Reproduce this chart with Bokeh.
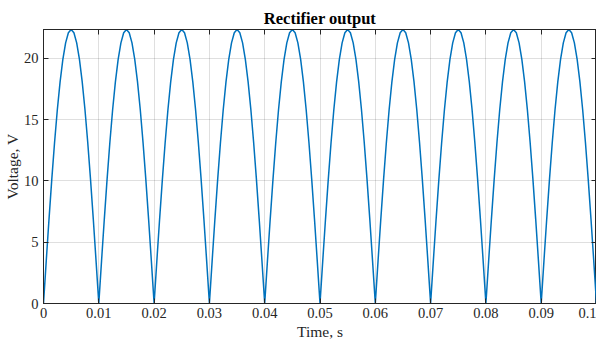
from bokeh.plotting import figure
from bokeh.models import Range1d, LinearAxis, FixedTicker, Title
from bokeh.embed import file_html
from bokeh.resources import INLINE

# sample times (s)
time_s = [
    0.0000, 0.0005, 0.0010, 0.0015, 0.0020, 0.0025, 0.0030, 0.0035, 0.0040, 0.0045,
    0.0050, 0.0055, 0.0060, 0.0065, 0.0070, 0.0075, 0.0080, 0.0085, 0.0090, 0.0095,
    0.0100, 0.0105, 0.0110, 0.0115, 0.0120, 0.0125, 0.0130, 0.0135, 0.0140, 0.0145,
    0.0150, 0.0155, 0.0160, 0.0165, 0.0170, 0.0175, 0.0180, 0.0185, 0.0190, 0.0195,
    0.0200, 0.0205, 0.0210, 0.0215, 0.0220, 0.0225, 0.0230, 0.0235, 0.0240, 0.0245,
    0.0250, 0.0255, 0.0260, 0.0265, 0.0270, 0.0275, 0.0280, 0.0285, 0.0290, 0.0295,
    0.0300, 0.0305, 0.0310, 0.0315, 0.0320, 0.0325, 0.0330, 0.0335, 0.0340, 0.0345,
    0.0350, 0.0355, 0.0360, 0.0365, 0.0370, 0.0375, 0.0380, 0.0385, 0.0390, 0.0395,
    0.0400, 0.0405, 0.0410, 0.0415, 0.0420, 0.0425, 0.0430, 0.0435, 0.0440, 0.0445,
    0.0450, 0.0455, 0.0460, 0.0465, 0.0470, 0.0475, 0.0480, 0.0485, 0.0490, 0.0495,
    0.0500, 0.0505, 0.0510, 0.0515, 0.0520, 0.0525, 0.0530, 0.0535, 0.0540, 0.0545,
    0.0550, 0.0555, 0.0560, 0.0565, 0.0570, 0.0575, 0.0580, 0.0585, 0.0590, 0.0595,
    0.0600, 0.0605, 0.0610, 0.0615, 0.0620, 0.0625, 0.0630, 0.0635, 0.0640, 0.0645,
    0.0650, 0.0655, 0.0660, 0.0665, 0.0670, 0.0675, 0.0680, 0.0685, 0.0690, 0.0695,
    0.0700, 0.0705, 0.0710, 0.0715, 0.0720, 0.0725, 0.0730, 0.0735, 0.0740, 0.0745,
    0.0750, 0.0755, 0.0760, 0.0765, 0.0770, 0.0775, 0.0780, 0.0785, 0.0790, 0.0795,
    0.0800, 0.0805, 0.0810, 0.0815, 0.0820, 0.0825, 0.0830, 0.0835, 0.0840, 0.0845,
    0.0850, 0.0855, 0.0860, 0.0865, 0.0870, 0.0875, 0.0880, 0.0885, 0.0890, 0.0895,
    0.0900, 0.0905, 0.0910, 0.0915, 0.0920, 0.0925, 0.0930, 0.0935, 0.0940, 0.0945,
    0.0950, 0.0955, 0.0960, 0.0965, 0.0970, 0.0975, 0.0980, 0.0985, 0.0990, 0.0995,
    0.1000,
]

# rectified voltage (V)
voltage_v = [
    0.00, 3.50, 6.91, 10.15, 13.14, 15.81, 18.09, 19.92, 21.27, 22.09,
    22.36, 22.09, 21.27, 19.92, 18.09, 15.81, 13.14, 10.15, 6.91, 3.50,
    0.00, 3.50, 6.91, 10.15, 13.14, 15.81, 18.09, 19.92, 21.27, 22.09,
    22.36, 22.09, 21.27, 19.92, 18.09, 15.81, 13.14, 10.15, 6.91, 3.50,
    0.00, 3.50, 6.91, 10.15, 13.14, 15.81, 18.09, 19.92, 21.27, 22.09,
    22.36, 22.09, 21.27, 19.92, 18.09, 15.81, 13.14, 10.15, 6.91, 3.50,
    0.00, 3.50, 6.91, 10.15, 13.14, 15.81, 18.09, 19.92, 21.27, 22.09,
    22.36, 22.09, 21.27, 19.92, 18.09, 15.81, 13.14, 10.15, 6.91, 3.50,
    0.00, 3.50, 6.91, 10.15, 13.14, 15.81, 18.09, 19.92, 21.27, 22.09,
    22.36, 22.09, 21.27, 19.92, 18.09, 15.81, 13.14, 10.15, 6.91, 3.50,
    0.00, 3.50, 6.91, 10.15, 13.14, 15.81, 18.09, 19.92, 21.27, 22.09,
    22.36, 22.09, 21.27, 19.92, 18.09, 15.81, 13.14, 10.15, 6.91, 3.50,
    0.00, 3.50, 6.91, 10.15, 13.14, 15.81, 18.09, 19.92, 21.27, 22.09,
    22.36, 22.09, 21.27, 19.92, 18.09, 15.81, 13.14, 10.15, 6.91, 3.50,
    0.00, 3.50, 6.91, 10.15, 13.14, 15.81, 18.09, 19.92, 21.27, 22.09,
    22.36, 22.09, 21.27, 19.92, 18.09, 15.81, 13.14, 10.15, 6.91, 3.50,
    0.00, 3.50, 6.91, 10.15, 13.14, 15.81, 18.09, 19.92, 21.27, 22.09,
    22.36, 22.09, 21.27, 19.92, 18.09, 15.81, 13.14, 10.15, 6.91, 3.50,
    0.00, 3.50, 6.91, 10.15, 13.14, 15.81, 18.09, 19.92, 21.27, 22.09,
    22.36, 22.09, 21.27, 19.92, 18.09, 15.81, 13.14, 10.15, 6.91, 3.50,
    0.00,
]

x_ticks = [0, 0.01, 0.02, 0.03, 0.04, 0.05, 0.06, 0.07, 0.08, 0.09, 0.1]
x_tick_labels = ["0", "0.01", "0.02", "0.03", "0.04", "0.05", "0.06", "0.07", "0.08", "0.09", "0.1"]
y_ticks = [0, 5, 10, 15, 20]
y_tick_labels = ["0", "5", "10", "15", "20"]
x_label = "Time, s"
y_label = "Voltage, V"
title_text = "Rectifier output"

FONT = "Liberation Serif"
AX = "#262626"

p = figure(width=596, height=342, output_backend="svg", toolbar_location=None,
           x_range=Range1d(0, 0.1), y_range=Range1d(0, 22.36),
           min_border_left=36, min_border_right=0, min_border_top=29, min_border_bottom=32)

p.title = Title(text=title_text, align="center", text_font=FONT,
                text_font_size="16.5px", text_font_style="bold", text_color="black",
                standoff=3)

p.line(time_s, voltage_v, line_color="#0072BD", line_width=1.5)

p.outline_line_color = AX
p.outline_line_width = 1

for ax, ticks, labels in ((p.xaxis[0], x_ticks, x_tick_labels), (p.yaxis[0], y_ticks, y_tick_labels)):
    ax.ticker = FixedTicker(ticks=ticks)
    ax.major_label_overrides = {t: l for t, l in zip(ticks, labels)}
    ax.minor_tick_line_color = None
    ax.major_tick_in = 5
    ax.major_tick_out = 0
    ax.axis_line_color = AX
    ax.major_tick_line_color = AX
    ax.major_label_text_color = AX
    ax.major_label_text_font = FONT
    ax.major_label_text_font_size = "14.5px"
    ax.axis_label_text_font = FONT
    ax.axis_label_text_font_size = "15.5px"
    ax.axis_label_text_font_style = "normal"
    ax.axis_label_text_color = AX

p.xaxis.axis_label = x_label
p.yaxis.axis_label = y_label
p.xaxis.major_label_standoff = 4
p.xaxis.axis_label_standoff = 2
p.yaxis.major_label_standoff = 5
p.yaxis.axis_label_standoff = 0

# box ticks on top and right (drawn as unlabeled minor ticks)
for loc, ticks in (("above", x_ticks), ("right", y_ticks)):
    a = LinearAxis(ticker=FixedTicker(ticks=[], minor_ticks=ticks))
    a.minor_tick_in = 5
    a.minor_tick_out = 0
    a.minor_tick_line_color = AX
    a.major_tick_in = 0
    a.major_tick_out = 0
    a.axis_line_color = AX
    a.major_label_standoff = 0
    p.add_layout(a, loc)

p.xgrid.ticker = FixedTicker(ticks=x_ticks)
p.ygrid.ticker = FixedTicker(ticks=y_ticks)
p.grid.grid_line_color = AX
p.grid.grid_line_alpha = 0.15

open("out.html", "w").write(file_html(p, INLINE))
